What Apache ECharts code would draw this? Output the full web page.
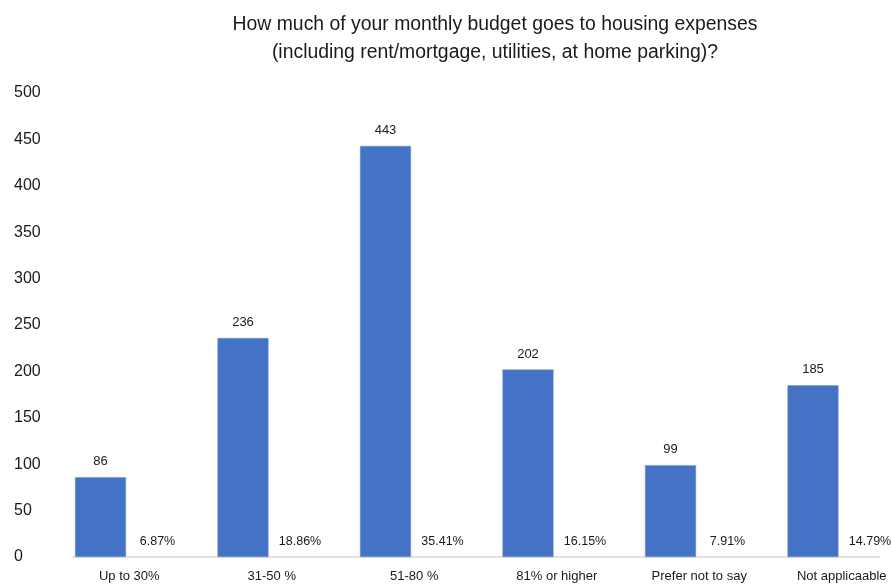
<!DOCTYPE html>
<html><head><meta charset="utf-8">
<script src="https://cdn.jsdelivr.net/npm/echarts@6/dist/echarts.min.js"></script>
<style>html,body{margin:0;padding:0;background:#fff}#c{width:891px;height:586px}</style>
</head><body><div id="c"></div>
<script>
const categories = ['Up to 30%', '31-50 %', '51-80 %', '81% or higher', 'Prefer not to say', 'Not applicaable'];
const counts = [86, 236, 443, 202, 99, 185];
const percents = ['6.87%', '18.86%', '35.41%', '16.15%', '7.91%', '14.79%'];
const yTicks = [0, 50, 100, 150, 200, 250, 300, 350, 400, 450, 500];

const FONT = '"Liberation Sans", Arial, sans-serif';
const chart = echarts.init(document.getElementById('c'), null, {renderer: 'canvas'});
chart.setOption({
  animation: false,
  title: {
    text: 'How much of your monthly budget goes to housing expenses\n(including rent/mortgage, utilities, at home parking)?',
    left: 490, top: 6, textAlign: 'center',
    textStyle: {fontFamily: FONT, fontSize: 19.4, fontWeight: 'normal', color: '#1a1a1a', lineHeight: 28}
  },
  grid: [
    {left: 36, top: 93, right: 0, bottom: 29, containLabel: false},
    {left: 73, top: 93, right: 11, bottom: 29, containLabel: false}
  ],
  xAxis: [
    {type: 'category', data: categories, gridIndex: 0,
     axisLine: {show: false}, axisTick: {show: false},
     axisLabel: {fontFamily: FONT, fontSize: 13, color: '#1a1a1a', margin: 13, padding: [0, 0, 0, 44]}},
    {type: 'category', data: categories, gridIndex: 1,
     axisLine: {show: true, lineStyle: {color: '#d9d9d9', width: 1.5}},
     axisTick: {show: false}, axisLabel: {show: false}}
  ],
  yAxis: [
    {type: 'value', gridIndex: 0, min: 0, max: 500, interval: 50,
     axisLine: {show: false}, axisTick: {show: false}, splitLine: {show: false},
     axisLabel: {fontFamily: FONT, fontSize: 16, color: '#1a1a1a', align: 'left', margin: 22,
       formatter: v => yTicks.includes(v) ? String(v) : ''}},
    {type: 'value', gridIndex: 1, min: 0, max: 500, show: false}
  ],
  series: [
    {type: 'bar', xAxisIndex: 0, yAxisIndex: 0, data: counts.map(() => 0), barWidth: 37.5,
     itemStyle: {color: 'transparent'}, silent: true},
    {type: 'bar', xAxisIndex: 0, yAxisIndex: 0, data: counts, barWidth: 51,
     itemStyle: {color: '#4472C4', borderColor: '#6f92d3', borderWidth: 0.5},
     label: {show: true, position: 'top', distance: 9, fontFamily: FONT, fontSize: 13, color: '#1a1a1a'}},
    {type: 'bar', xAxisIndex: 0, yAxisIndex: 0, data: counts.map(() => 0), barWidth: 51, barGap: '0%',
     itemStyle: {color: 'transparent'},
     label: {show: true, position: 'top', distance: 9, offset: [6, 0], fontFamily: FONT, fontSize: 12.5, color: '#1a1a1a',
       formatter: p => percents[p.dataIndex]}}
  ]
});
</script></body></html>
